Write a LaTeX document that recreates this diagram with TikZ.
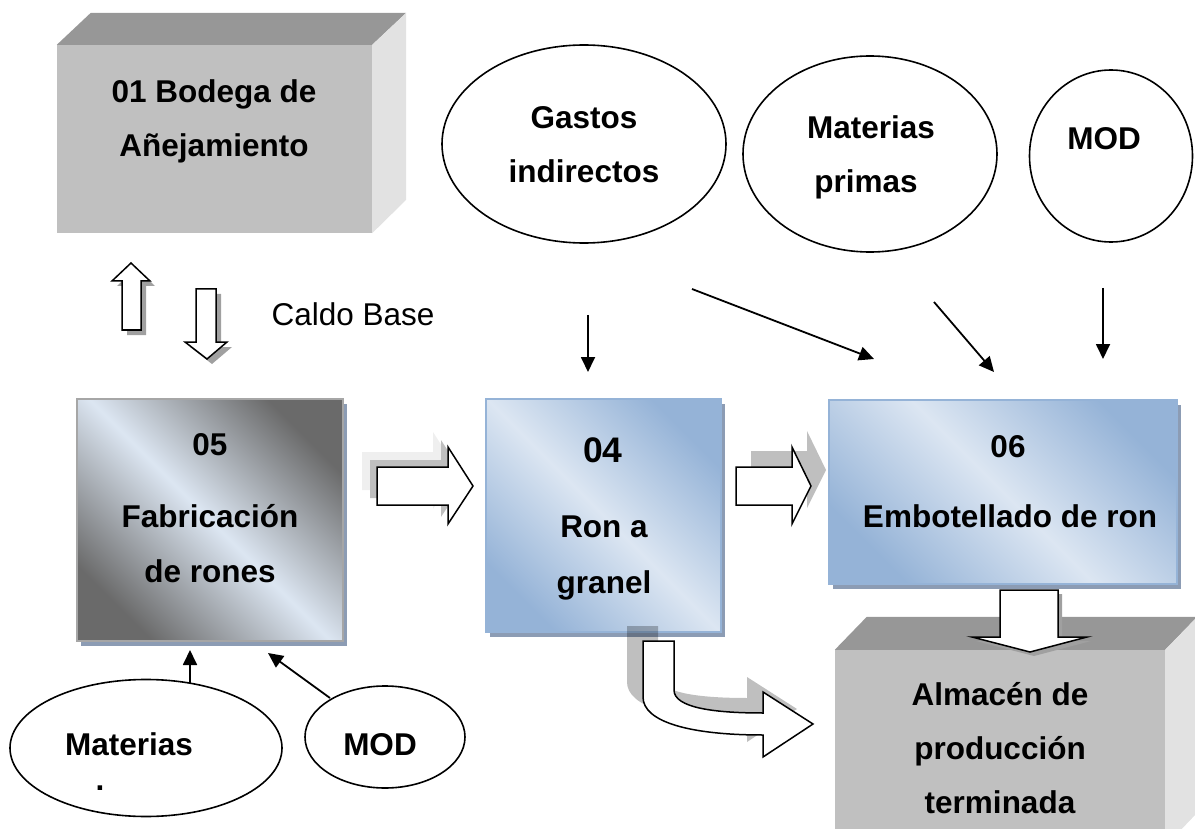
\documentclass[tikz,border=0pt]{standalone}
\usepackage{fontspec}
\setmainfont{Liberation Sans}
\usetikzlibrary{shapes.geometric, arrows.meta, shadows}

\definecolor{paleblue}{HTML}{DCE6F2}
\definecolor{midblue}{HTML}{95B3D7}
\definecolor{steel}{HTML}{6A6A6A}
\definecolor{boxshadow}{HTML}{8C9CB4}
\definecolor{cubefront}{HTML}{C0C0C0}
\definecolor{cubetop}{HTML}{979797}
\definecolor{cubeside}{HTML}{E2E2E2}
\definecolor{arrowshade}{HTML}{BFBFBF}
\definecolor{arrowhaze}{HTML}{EFEFEF}
\definecolor{arrowdark}{HTML}{A0A0A0}

\tikzset{
  boldtxt/.style={font=\bfseries\fontsize{31.5}{36}\selectfont, anchor=base, inner sep=0pt},
  plaintxt/.style={font=\fontsize{31.5}{36}\selectfont, anchor=base, inner sep=0pt},
  bubble/.style={draw, ellipse, line width=1.6pt, fill=white, inner sep=0pt},
  feed/.style={-{Triangle[length=15pt,width=14pt]}, line width=1.8pt},
  blockarrow/.style={draw=black, fill=white, line width=1.5pt, line join=miter},
  procbox/.style={rectangle, inner sep=0pt, line width=1.2pt,
    drop shadow={shadow xshift=4pt, shadow yshift=-5pt, fill=boxshadow, opacity=1}},
  bluebox/.style={procbox, draw=midblue, top color=midblue, bottom color=midblue,
    middle color=paleblue, shading angle=-45},
  steelbox/.style={procbox, draw=gray!70, top color=steel, bottom color=steel,
    middle color=paleblue, shading angle=-45},
  cubeface/.style={rectangle, inner sep=0pt, fill=cubefront},
}

\begin{document}
\begin{tikzpicture}[x=1pt, y=-1pt]
\useasboundingbox (0,0) rectangle (1195,829);
\clip (0,0) rectangle (1195,829);

% ---------- aging cellar (3D block) ----------
\node[cubeface, minimum width=315pt, minimum height=188pt] (b01) at (214.5,139) {};
\fill[cubetop] (b01.north west) -- ++(34,-32) -- ([shift={(34pt,32pt)}]b01.north east) -- (b01.north east) -- cycle;
\fill[cubeside] (b01.north east) -- ++(34,-32) -- ++(0,187) -- (b01.south east) -- cycle;
\node[boldtxt] (t01a) at (214,103) {01 Bodega de};
\node[boldtxt] (t01b) at (214,157) {Añejamiento};

% ---------- base broth exchange arrows ----------
\begin{scope}[shift={(5,5)}]
  \fill[arrowdark] (122,330) -- (122,281) -- (112,281) -- (131,263) -- (150,281) -- (141,281) -- (141,330) -- cycle;
  \fill[arrowdark] (196,289) -- (196,342) -- (185,342) -- (207,359) -- (227,342) -- (216,342) -- (216,289) -- cycle;
\end{scope}
\draw[blockarrow] (122,330) -- (122,281) -- (112,281) -- (131,263) -- (150,281) -- (141,281) -- (141,330) -- cycle;
\draw[blockarrow] (196,289) -- (196,342) -- (185,342) -- (207,359) -- (227,342) -- (216,342) -- (216,289) -- cycle;
\node[plaintxt] (caldo) at (353,326) {Caldo Base};

% ---------- cost bubbles (top) ----------
\node[bubble, minimum width=284pt, minimum height=198pt] (gastos) at (584,144) {};
\node[bubble, minimum width=254pt, minimum height=196pt] (matp) at (870,154) {};
\node[bubble, minimum width=163pt, minimum height=172pt] (modt) at (1111,156) {};
\node[boldtxt] (tga) at (584,129) {Gastos};
\node[boldtxt] (tgb) at (584,183) {indirectos};
\node[boldtxt] (tmpa) at (871,139) {Materias};
\node[boldtxt] (tmpb) at (866,193) {primas};
\node[boldtxt] (tmod) at (1104,150) {MOD};

% ---------- process boxes ----------
\node[steelbox, minimum width=266pt, minimum height=242pt] (b05) at (210,520) {};
\node[bluebox, minimum width=235pt, minimum height=233pt] (b04) at (603.5,515.5) {};
\node[bluebox, minimum width=348pt, minimum height=184pt] (b06) at (1003,492) {};

\node[boldtxt] (t05a) at (210,455) {05};
\node[boldtxt] (t05b) at (210,527) {Fabricación};
\node[boldtxt] (t05c) at (210,582) {de rones};
\node[boldtxt, font=\bfseries\fontsize{35.5}{40}\selectfont] (t04a) at (603,462) {04};
\node[boldtxt] (t04b) at (604,537) {Ron a};
\node[boldtxt] (t04c) at (604,593) {granel};
\node[boldtxt] (t06a) at (1008,457) {06};
\node[boldtxt] (t06b) at (1010,527) {Embotellado de ron};

% ---------- flow arrows between boxes ----------
\begin{scope}[shift={(-15,-15)}]
  \fill[arrowhaze] (377,467) -- (448,467) -- (448,447) -- (473,486) -- (448,524) -- (448,505) -- (377,505) -- cycle;
\end{scope}
\begin{scope}[shift={(-7,-7)}]
  \fill[arrowshade] (377,467) -- (448,467) -- (448,447) -- (473,486) -- (448,524) -- (448,505) -- (377,505) -- cycle;
\end{scope}
\draw[blockarrow] (377,467) -- (448,467) -- (448,447) -- (473,486) -- (448,524) -- (448,505) -- (377,505) -- cycle;

\begin{scope}[shift={(15,-16)}]
  \fill[arrowshade] (736,467) -- (792,467) -- (792,447) -- (811,486) -- (792,524) -- (792,505) -- (736,505) -- cycle;
\end{scope}
\draw[blockarrow] (736,467) -- (792,467) -- (792,447) -- (811,486) -- (792,524) -- (792,505) -- (736,505) -- cycle;

% ---------- finished goods warehouse (3D block) ----------
\node[cubeface, minimum width=330pt, minimum height=196pt] (balm) at (1000,748) {};
\fill[cubetop] (balm.north west) -- ++(32,-33) -- ([shift={(32pt,33pt)}]balm.north east) -- (balm.north east) -- cycle;
\fill[cubeside] (balm.north east) -- ++(32,-33) -- ++(0,196) -- (balm.south east) -- cycle;
\node[boldtxt] (tala) at (1000,705) {Almacén de};
\node[boldtxt] (talb) at (1000,759) {producción};
\node[boldtxt] (talc) at (1000,813) {terminada};

% bottling -> warehouse
\begin{scope}[shift={(4,4)}]
  \fill[arrowdark] (1000,590) -- (1000,637) -- (972,637) -- (1030,652) -- (1087,637) -- (1058,637) -- (1058,590) -- cycle;
\end{scope}
\draw[blockarrow] (1000,590) -- (1000,637) -- (972,637) -- (1030,652) -- (1087,637) -- (1058,637) -- (1058,590) -- cycle;

% bulk rum -> warehouse (bent arrow)
\begin{scope}[shift={(-16,-15)}]
  \fill[black, opacity=0.25] (643,641) -- (643,697) .. controls (643,722) and (690,735) .. (763,735)
    -- (763,757) -- (813,724) -- (763,692) -- (763,713) .. controls (715,713) and (674,708) .. (674,690)
    -- (674,641) -- cycle;
\end{scope}
\draw[blockarrow] (643,641) -- (643,697) .. controls (643,722) and (690,735) .. (763,735)
    -- (763,757) -- (813,724) -- (763,692) -- (763,713) .. controls (715,713) and (674,708) .. (674,690)
    -- (674,641) -- cycle;

% ---------- cost inputs (top) ----------
\coordinate (g1s) at (588,315);  \coordinate (g1e) at (588,372);
\coordinate (g2s) at (692,289);  \coordinate (g2e) at (874,359);
\coordinate (g3s) at (934,302);  \coordinate (g3e) at (994,372);
\coordinate (g4s) at (1103,288); \coordinate (g4e) at (1103,359);
\draw[feed] (g1s) -- (g1e);
\draw[feed] (g2s) -- (g2e);
\draw[feed] (g3s) -- (g3e);
\draw[feed] (g4s) -- (g4e);

% ---------- cost bubbles (bottom) ----------
\node[bubble, minimum width=272pt, minimum height=137pt] (matb) at (146,748) {};
\node[bubble, minimum width=160pt, minimum height=102pt] (modb) at (385,737) {};
\node[boldtxt] (tmb) at (129,755) {Materias};
\node[boldtxt] (tdot) at (100,790) {.};
\node[boldtxt] (tmodb) at (380,755) {MOD};

\coordinate (m1s) at (190,683); \coordinate (m1e) at (190,650);
\coordinate (m2s) at (330,698); \coordinate (m2e) at (268,653);
\draw[feed] (m1s) -- (m1e);
\draw[feed] (m2s) -- (m2e);

\end{tikzpicture}
\end{document}
